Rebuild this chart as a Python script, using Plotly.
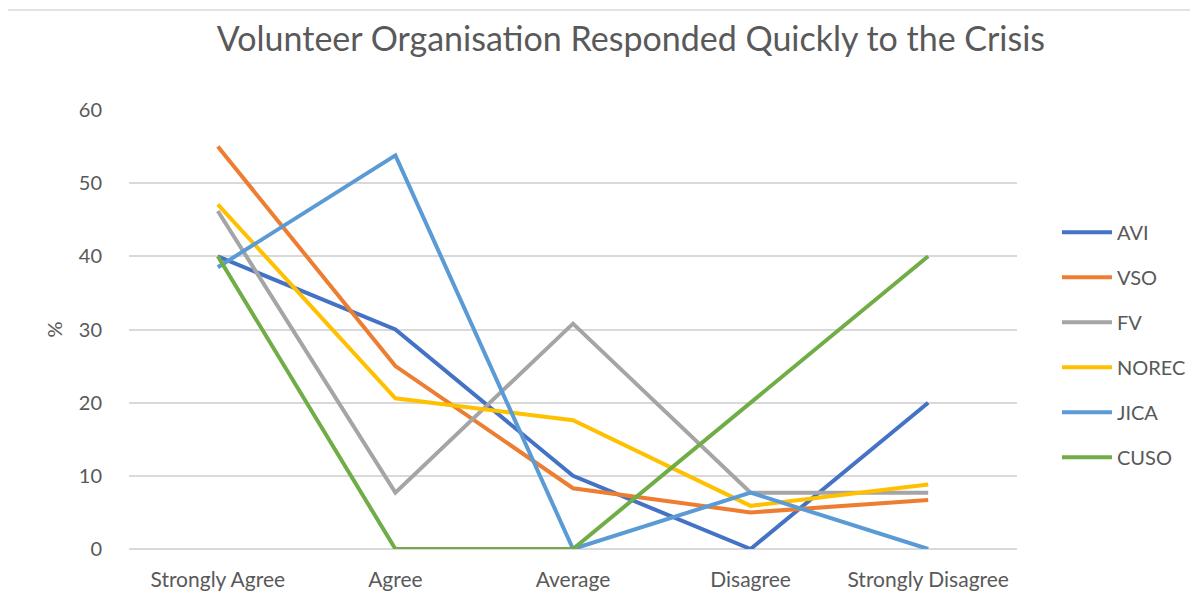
import plotly.graph_objects as go

categories = ["Strongly Agree", "Agree", "Average", "Disagree", "Strongly Disagree"]

avi = [40, 30, 10, 0, 20]
vso = [55, 25, 8.3, 5, 6.7]
fv = [46.2, 7.7, 30.8, 7.7, 7.7]
norec = [47.1, 20.6, 17.6, 5.9, 8.8]
jica = [38.5, 53.8, 0, 7.7, 0]
cuso = [40, 0, 0, 20, 40]

series = [
    ("AVI", avi, "#4472C4"),
    ("VSO", vso, "#ED7D31"),
    ("FV", fv, "#A5A5A5"),
    ("NOREC", norec, "#FFC000"),
    ("JICA", jica, "#5B9BD5"),
    ("CUSO", cuso, "#70AD47"),
]

FONT = "Lato, Calibri, sans-serif"
TEXT = "#595959"
GRID = "#D9D9D9"

fig = go.Figure()
for name, vals, color in series:
    fig.add_trace(go.Scatter(
        x=categories,
        y=vals,
        mode="lines",
        name=name,
        legendgroup=name,
        line=dict(color=color, width=4),
    ))

# page has an 8px body margin, so margins are offset by that
fig.update_layout(
    width=1198,
    height=604,
    margin=dict(l=121, r=189, t=102, b=63),
    paper_bgcolor="white",
    plot_bgcolor="white",
    title=dict(
        text="Volunteer Organisation Responded Quickly to the Crisis",
        font=dict(family=FONT, size=34, color=TEXT),
        x=0.52, xanchor="center",
        y=0.948, yanchor="middle",
    ),
    font=dict(family=FONT, size=18, color=TEXT),
    legend=dict(
        x=1.045, xanchor="left",
        y=0.465, yanchor="middle",
        font=dict(size=20, color=TEXT),
        tracegroupgap=16,
        itemwidth=50,
        bgcolor="rgba(0,0,0,0)",
    ),
    xaxis=dict(
        type="category",
        range=[-0.5, 4.5],
        showgrid=False,
        showline=False,
        zeroline=False,
        ticks="",
        ticklabelstandoff=16,
        tickfont=dict(size=21, color=TEXT),
    ),
    yaxis=dict(
        range=[0, 60],
        dtick=10,
        showgrid=True,
        gridcolor=GRID,
        gridwidth=1.5,
        zeroline=True,
        zerolinecolor=GRID,
        zerolinewidth=1.5,
        showline=False,
        ticks="",
        ticklabelstandoff=26,
        tickfont=dict(size=20, color=TEXT),
        title=dict(text="%", font=dict(size=20, color=TEXT), standoff=10),
    ),
    shapes=[
        dict(type="line", xref="paper", yref="paper",
             x0=-0.142, x1=1.3, y0=1.228, y1=1.228,
             line=dict(color=GRID, width=1.5)),
        dict(type="line", xref="paper", yref="paper",
             x0=-0.142, x1=-0.142, y0=-0.3, y1=1.228,
             line=dict(color=GRID, width=1.5)),
    ],
)

fig.write_html("out.html")
